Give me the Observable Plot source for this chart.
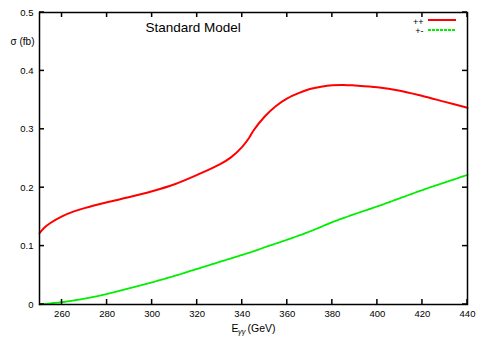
<!DOCTYPE html>
<html><head><meta charset="utf-8">
<script src="https://cdn.jsdelivr.net/npm/d3@7"></script>
<script src="https://cdn.jsdelivr.net/npm/@observablehq/plot@0.6"></script>
<style>
body{margin:0;background:#fff}
svg{font-family:"Liberation Sans",Arial,Helvetica,sans-serif}
</style>
</head><body><div id="chart"></div>
<script>
// ++ polarisation (red)
const energyPP = [250,252,255,260,265,270,280,290,300,310,320,330,335,340,343,345,350,355,360,365,370,375,380,385,390,400,410,420,430,440];
const sigmaPP  = [0.122,0.131,0.140,0.151,0.159,0.165,0.175,0.184,0.194,0.206,0.222,0.240,0.252,0.270,0.285,0.298,0.322,0.340,0.353,0.362,0.369,0.373,0.3755,0.376,0.375,0.372,0.366,0.357,0.347,0.337];
// +- polarisation (green)
const energyPM = [250,255,260,270,280,290,300,310,320,330,340,345,350,360,370,380,390,400,410,420,430,440];
const sigmaPM  = [0.000,0.002,0.004,0.010,0.018,0.028,0.038,0.049,0.061,0.073,0.085,0.091,0.098,0.111,0.125,0.141,0.155,0.168,0.182,0.196,0.209,0.222];

const xTicks = [260,280,300,320,340,360,380,400,420,440];
const yTicks = [0,0.1,0.2,0.3,0.4,0.5];
const yTickLabels = ["0","0.1","0.2","0.3","0.4","0.5"];
const legendLabels = ["++","+-"];
const legendColors = ["#ff0000","#00ee00"];
const titleText = "Standard Model";
const yLabel = "σ (fb)";

const pp = energyPP.map((e,i)=>({e, s: sigmaPP[i]}));
const pm = energyPM.map((e,i)=>({e, s: sigmaPM[i]}));

const W = 490, H = 343, ML = 39, MR = 23, MT = 12, MB = 39;
const TL = 5;

const chart = Plot.plot({
  width: W, height: H,
  marginLeft: ML, marginRight: MR, marginTop: MT, marginBottom: MB,
  style: {fontFamily: '"Liberation Sans",Arial,sans-serif', fontSize: "9.5px", background: "white"},
  x: {domain: [250, 440]},
  y: {domain: [0, 0.5]},
  marks: [
    Plot.axisX({ticks: xTicks, tickSize: 0, tickPadding: 6, label: null, tickFormat: d => String(d), fontSize: 9.5}),
    Plot.axisY({ticks: yTicks, tickSize: 0, tickPadding: 6, label: null, tickFormat: d => yTickLabels[yTicks.indexOf(d)] ?? "", fontSize: 9.5}),
    Plot.line(pp, {x: "e", y: "s", stroke: legendColors[0], strokeWidth: 2, curve: "catmull-rom"}),
    Plot.line(pm, {x: "e", y: "s", stroke: legendColors[1], strokeWidth: 1.8, strokeDasharray: "3,1", curve: "catmull-rom"}),
    Plot.frame({stroke: "black", strokeWidth: 1.5}),
    Plot.text([titleText], {frameAnchor: "top-left", dx: 106, dy: 15, textAnchor: "start", lineAnchor: "middle", fontSize: 13.5, fill: "black"}),
    Plot.text([yLabel], {frameAnchor: "top-left", dx: -5, dy: 29.5, textAnchor: "end", lineAnchor: "middle", fontSize: 10, fill: "black"}),
    Plot.text([legendLabels[0]], {frameAnchor: "top-right", dx: -44, dy: 9.5, textAnchor: "end", lineAnchor: "middle", fontSize: 9, fill: "black"}),
    Plot.text([legendLabels[1]], {frameAnchor: "top-right", dx: -44, dy: 19, textAnchor: "end", lineAnchor: "middle", fontSize: 9, fill: "black"}),
    Plot.text(["E"], {frameAnchor: "bottom", dx: -22, dy: 24, textAnchor: "start", lineAnchor: "middle", fontSize: 10.5, fill: "black"}),
    Plot.text(["γγ"], {frameAnchor: "bottom", dx: -15.5, dy: 27, textAnchor: "start", lineAnchor: "middle", fontSize: 7.5, fontStyle: "italic", fill: "black"}),
    Plot.text(["(GeV)"], {frameAnchor: "bottom", dx: -6, dy: 24, textAnchor: "start", lineAnchor: "middle", fontSize: 10.5, fill: "black"})
  ]
});
document.getElementById("chart").appendChild(chart);

// inward tick marks on all four sides, positioned with Plot's own scales
const sx = chart.scale("x"), sy = chart.scale("y");
const svgSel = d3.select(chart);
const fTop = MT, fBottom = H - MB, fLeft = ML, fRight = W - MR;
const tg = svgSel.append("g").attr("stroke", "black").attr("stroke-width", 1.5);
xTicks.forEach(v => {
  const px = sx.apply(v);
  tg.append("line").attr("x1", px).attr("x2", px).attr("y1", fBottom).attr("y2", fBottom - TL);
  tg.append("line").attr("x1", px).attr("x2", px).attr("y1", fTop).attr("y2", fTop + TL);
});
yTicks.forEach(v => {
  const py = sy.apply(v);
  tg.append("line").attr("x1", fLeft).attr("x2", fLeft + TL).attr("y1", py).attr("y2", py);
  tg.append("line").attr("x1", fRight).attr("x2", fRight - TL).attr("y1", py).attr("y2", py);
});

// legend sample lines, placed relative to the frame's top-right corner
const lg = svgSel.append("g");
legendLabels.forEach((lab, i) => {
  lg.append("line")
    .attr("x1", fRight - 39).attr("x2", fRight - 11)
    .attr("y1", MT + 8 + i * 10).attr("y2", MT + 8 + i * 10)
    .attr("stroke", legendColors[i]).attr("stroke-width", 2)
    .attr("stroke-dasharray", i === 1 ? "3,1" : null);
});
</script>
</body></html>
